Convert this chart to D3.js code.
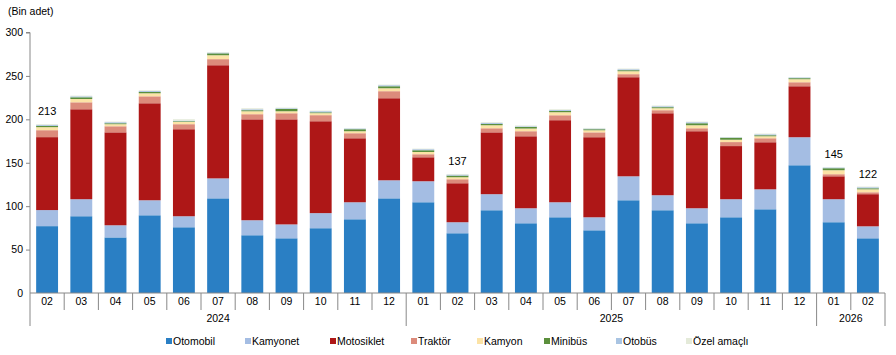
<!DOCTYPE html>
<html><head><meta charset="utf-8">
<script src="https://cdn.jsdelivr.net/npm/d3@7"></script>
<style>body{margin:0;background:#fff}svg{display:block;font-family:"Liberation Sans",Arial,sans-serif}</style>
</head><body>
<svg id="c" width="896" height="355"></svg>
<script>
const months = ["02","03","04","05","06","07","08","09","10","11","12","01","02","03","04","05","06","07","08","09","10","11","12","01","02"];
const years = [{label:"2024",start:0,end:11},{label:"2025",start:11,end:23},{label:"2026",start:23,end:25}];
const seriesNames = ["Otomobil","Kamyonet","Motosiklet","Traktör","Kamyon","Minibüs","Otobüs","Özel amaçlı"];
const otomobil   = [77,88.4,64,89.5,75.7,109,66.5,63,74.6,84.9,109,104.5,68.8,95.3,80.3,87.2,72.2,106.8,95.3,80.3,87.2,96.4,147.1,81.5,63];
const kamyonet   = [18.5,19.6,14,17.3,12.7,23,17.3,16,17.4,19.6,20.8,24.2,12.7,18.5,17.3,17.3,15,27.6,17.3,17.3,20.8,23,32.3,26.5,13.8];
const motosiklet = [84,103.6,107,111.7,100.2,130.3,116.2,121,105.8,73.7,94.5,27.6,44.9,71.2,82.9,94.5,92.2,114.1,94.4,88.7,61.2,54.2,58.7,26.4,37];
const traktor    = [8,8,7,8,5.8,7,5.9,7,7,5.8,8.1,3.5,4.6,4.7,5.8,5.7,5.6,3.5,3.5,3.4,4.6,4.6,4.6,2.4,2.2];
const kamyon     = [3.5,3.8,2.4,3.5,2.6,4.5,3.4,2.3,2.3,2.3,3.4,2.6,2.3,3.5,3.1,3.5,2.4,3.4,2.3,3.5,2.7,2.3,3.5,4.6,3.4];
const minibus    = [1.5,2,1.1,1.5,0.8,2.2,1.2,2.7,1,2.3,2.3,2,1.9,1.5,1.8,1.5,1.2,1.2,1.2,2.3,2.3,1.2,1.2,2.3,1.2];
const otobus     = [1.2,1.1,1.2,1.1,0.8,0.8,1.1,0.8,1.3,0.8,1.2,1.2,1.2,1.2,0.8,1.1,0.8,1.1,1.1,1.2,0.5,1.1,0.8,0.8,1.2];
const ozel       = [0.8,0.8,0.7,0.8,1.5,0.6,1.2,0.7,0.7,0.3,0.7,0.7,0.7,0.8,0.9,0.8,0.7,0.8,0.8,0.7,0.3,0.8,0.3,0.3,0.8];
const labels = [{i:0,text:"213"},{i:12,text:"137"},{i:23,text:"145"},{i:24,text:"122"}];
const yTicks = [0,50,100,150,200,250,300];
const colors = ["#2a7fc4","#a4bde3","#ae1717","#dc8b7b","#fce3a6","#5b8f3c","#a9c4e2","#e4ead9"];

const allSeries = [otomobil,kamyonet,motosiklet,traktor,kamyon,minibus,otobus,ozel];
const rows = months.map((m,i)=>{const r={idx:i}; seriesNames.forEach((s,k)=>r[s]=allSeries[k][i]); return r;});
const stack = d3.stack().keys(seriesNames)(rows);

const svg = d3.select("#c");
const L=30, R=885, T=32.5, B=293;
const x = d3.scaleBand().domain(d3.range(months.length)).range([L,R]).paddingInner(0.36).paddingOuter(0.18);
const step = (R-L)/months.length;
const y = d3.scaleLinear().domain([0,300]).range([B,T]);

// bars
svg.append("g").selectAll("g").data(stack).join("g").attr("fill",(d,k)=>colors[k])
  .selectAll("rect").data(d=>d).join("rect")
  .attr("x",d=>x(d.data.idx)).attr("width",x.bandwidth())
  .attr("y",d=>y(d[1])).attr("height",d=>Math.max(0,y(d[0])-y(d[1])));

// y axis
const ya = svg.append("g").attr("transform",`translate(${L},0)`)
  .call(d3.axisLeft(y).tickValues(yTicks).tickSize(4).tickPadding(3));
ya.select(".domain").attr("stroke","#888").attr("d",`M-4,${T}H0V${B}`);
ya.selectAll(".tick line").attr("stroke","#888");
ya.selectAll("text").attr("font-size","10.5px").attr("fill","#000").attr("font-family","Liberation Sans, Arial");
ya.select(".tick:first-of-type line").remove();

// x axis base line
const xa = svg.append("g");
xa.append("line").attr("x1",L).attr("x2",R).attr("y1",B).attr("y2",B).attr("stroke","#888");
// month separators
const yearBounds = new Set(years.flatMap(v=>[v.start,v.end]));
d3.range(months.length+1).forEach(i=>{
  const xx = L + i*step;
  xa.append("line").attr("x1",xx).attr("x2",xx).attr("y1",B).attr("y2",yearBounds.has(i)?326:310).attr("stroke","#888");
});
xa.selectAll("text.m").data(months).join("text").attr("class","m")
  .attr("x",(d,i)=>x(i)+x.bandwidth()/2).attr("y",305).attr("text-anchor","middle")
  .attr("font-size","10.5px").text(d=>d);
xa.selectAll("text.yr").data(years).join("text").attr("class","yr")
  .attr("x",d=>L+(d.start+d.end)/2*step).attr("y",322).attr("text-anchor","middle")
  .attr("font-size","10.5px").text(d=>d.label);

// total labels
const totals = rows.map(r=>d3.sum(seriesNames,s=>r[s]));
svg.selectAll("text.lab").data(labels).join("text").attr("class","lab")
  .attr("x",d=>x(d.i)+x.bandwidth()/2).attr("y",d=>y(totals[d.i])-9)
  .attr("text-anchor","middle").attr("font-size","11px").text(d=>d.text);

// title
svg.append("text").attr("x",8).attr("y",15).attr("font-size","10.5px").text("(Bin adet)");

// legend
const legX = [166,245,330,411,477,544,616,686];
const lg = svg.append("g");
seriesNames.forEach((s,k)=>{
  lg.append("rect").attr("x",legX[k]).attr("y",338).attr("width",6).attr("height",6).attr("fill",colors[k]);
  lg.append("text").attr("x",legX[k]+7).attr("y",345).attr("font-size","10.5px").text(s);
});
</script>
</body></html>
